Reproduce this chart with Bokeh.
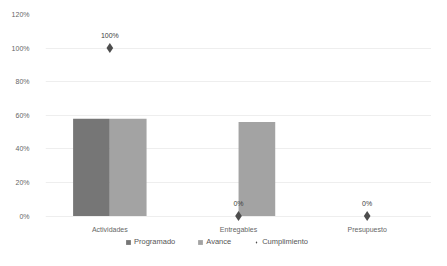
from bokeh.plotting import figure
from bokeh.models import ColumnDataSource, FactorRange, Legend, LegendItem, NumeralTickFormatter, FixedTicker
from bokeh.transform import dodge
from bokeh.embed import file_html
from bokeh.resources import INLINE

categories = ["Actividades", "Entregables", "Presupuesto"]
programado = [0.58, 0.0, 0.0]
avance = [0.58, 0.56, 0.0]
cumplimiento = [1.0, 0.0, 0.0]
cumpl_labels = ["100%", "0%", "0%"]
base = [0.0, 0.0, 0.0]

src = ColumnDataSource(dict(cat=categories, prog=programado, av=avance,
                            cum=cumplimiento, lab=cumpl_labels, base=base))

p = figure(x_range=FactorRange(*categories), y_range=(-0.205, 1.2),
           frame_width=386, frame_height=236, output_backend="svg", toolbar_location=None,
           min_border_left=45, min_border_right=0, min_border_top=14, min_border_bottom=0)

r1 = p.vbar(x=dodge("cat", -0.143, range=p.x_range), top="prog", width=0.285,
            source=src, color="#767676", line_color=None)
r2 = p.vbar(x=dodge("cat", 0.143, range=p.x_range), top="av", width=0.285,
            source=src, color="#a3a3a3", line_color=None)
r3 = p.scatter(x="cat", y="cum", marker="diamond", size=10, source=src,
               color="#4d4d4d", line_color=None)
p.text(x="cat", y="cum", text="lab", source=src, y_offset=-9,
       text_align="center", text_baseline="bottom", text_font_size="7px",
       text_color="#404040")
p.text(x="cat", y="base", text="cat", source=src, y_offset=13,
       text_align="center", text_baseline="middle", text_font_size="7px",
       text_color="#666666")

p.xaxis.visible = False
p.yaxis.ticker = FixedTicker(ticks=[0, 0.2, 0.4, 0.6, 0.8, 1.0, 1.2])
p.yaxis.formatter = NumeralTickFormatter(format="0%")
p.yaxis.axis_line_color = None
p.yaxis.major_tick_line_color = None
p.yaxis.minor_tick_line_color = None
p.yaxis.major_label_text_font_size = "7px"
p.yaxis.major_label_text_color = "#666666"
p.yaxis.major_label_standoff = 10
p.xgrid.grid_line_color = None
p.ygrid.grid_line_color = "#eeeeee"
p.outline_line_color = None
p.x_range.range_padding = 0
p.x_range.group_padding = 0

legend = Legend(items=[LegendItem(label="Programado", renderers=[r1]),
                       LegendItem(label="Avance", renderers=[r2]),
                       LegendItem(label="Cumplimiento", renderers=[r3])],
                orientation="horizontal", location=(80, 4),
                label_text_font_size="7.5px", label_text_color="#555555",
                label_height=8, glyph_width=6, glyph_height=6, spacing=22,
                padding=3, margin=0, label_standoff=3,
                border_line_color=None, background_fill_alpha=0)
p.add_layout(legend, "center")

open("out.html", "w").write(file_html(p, INLINE))
